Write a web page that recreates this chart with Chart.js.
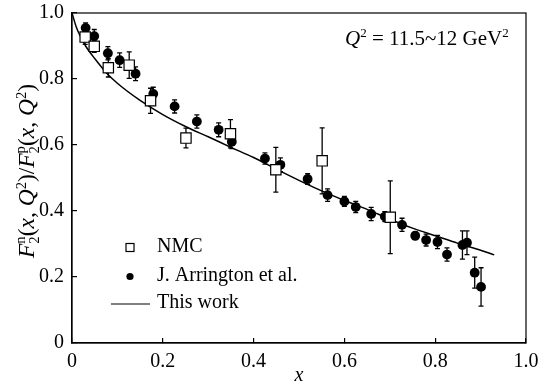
<!DOCTYPE html>
<html>
<head>
<meta charset="utf-8">
<script src="https://cdn.jsdelivr.net/npm/chart.js@4.4.0/dist/chart.umd.min.js"></script>
<style>
  html, body { margin: 0; padding: 0; background: #fff; }
  #wrap { width: 539px; height: 385px; position: relative; }
</style>
</head>
<body>
<div id="wrap"><canvas id="ratio_chart"></canvas></div>
<script>
const SERIF = '"Liberation Serif", "Times New Roman", serif';

// NMC data
const nmcX = [0.029, 0.049, 0.080, 0.126, 0.173, 0.251, 0.349, 0.449, 0.551, 0.701];
const nmcY = [0.927, 0.899, 0.834, 0.842, 0.734, 0.621, 0.634, 0.525, 0.552, 0.381];
const nmcErr = [0.022, 0.018, 0.028, 0.040, 0.038, 0.030, 0.043, 0.068, 0.100, 0.110];

// J. Arrington et al.
const arrX = [0.030, 0.049, 0.079, 0.105, 0.140, 0.179, 0.226, 0.275, 0.323, 0.352,
              0.425, 0.459, 0.519, 0.563, 0.600, 0.625, 0.659, 0.689, 0.727, 0.756,
              0.780, 0.805, 0.826, 0.860, 0.870, 0.887, 0.901];
const arrY = [0.955, 0.930, 0.878, 0.857, 0.816, 0.755, 0.717, 0.671, 0.646, 0.610,
              0.559, 0.540, 0.497, 0.448, 0.429, 0.412, 0.391, 0.383, 0.358, 0.325,
              0.312, 0.306, 0.268, 0.297, 0.304, 0.213, 0.170];
const arrErr = [0.015, 0.020, 0.020, 0.022, 0.021, 0.020, 0.020, 0.020, 0.021, 0.021,
                0.017, 0.021, 0.016, 0.019, 0.015, 0.017, 0.020, 0.015, 0.020, 0.012,
                0.018, 0.020, 0.020, 0.043, 0.036, 0.047, 0.058];

// This work (curve)
const fitX = [0, 0.01, 0.02, 0.03, 0.05, 0.075, 0.1, 0.15, 0.2, 0.25, 0.3, 0.35, 0.4,
              0.45, 0.5, 0.55, 0.6, 0.65, 0.7, 0.75, 0.8, 0.85, 0.9, 0.93];
const fitY = [1.0, 0.955, 0.925, 0.900, 0.862, 0.820, 0.787, 0.735, 0.692, 0.656, 0.625, 0.593, 0.562,
              0.527, 0.493, 0.461, 0.432, 0.405, 0.375, 0.348, 0.325, 0.302, 0.281, 0.267];

const tickVals = [0, 0.2, 0.4, 0.6, 0.8, 1.0];
const tickText = ['0', '0.2', '0.4', '0.6', '0.8', '1.0'];

const pts = (xs, ys) => xs.map((x, i) => ({ x: x, y: ys[i] }));

// rich text helper (italic / superscript / stacked sub+sup)
function segFont(italic, size) {
    return (italic ? 'italic ' : '') + size + 'px ' + SERIF;
}
function segWidth(ctx, s, size) {
    if (s.stack) {
        ctx.font = segFont(false, size * 0.62);
        return Math.max(ctx.measureText(s.stack[0]).width, ctx.measureText(s.stack[1]).width);
    }
    ctx.font = segFont(s.i, s.sup ? size * 0.62 : size);
    return ctx.measureText(s.t).width;
}
function drawRich(ctx, segs, x, y, size, align) {
    const w = segs.reduce((a, s) => a + segWidth(ctx, s, size), 0);
    let cx = align === 'center' ? x - w / 2 : x;
    ctx.textAlign = 'left';
    ctx.textBaseline = 'alphabetic';
    ctx.fillStyle = '#000';
    segs.forEach(s => {
        const sw = segWidth(ctx, s, size);
        if (s.stack) {
            ctx.font = segFont(false, size * 0.62);
            ctx.fillText(s.stack[0], cx, y + size * 0.22);
            ctx.fillText(s.stack[1], cx, y - size * 0.38);
        } else {
            ctx.font = segFont(s.i, s.sup ? size * 0.62 : size);
            ctx.fillText(s.t, cx, s.sup ? y - size * 0.36 : y);
        }
        cx += sw;
    });
}

const yTitle = [
    { t: 'F', i: true }, { stack: ['2', 'n'] }, { t: '(' }, { t: 'x', i: true }, { t: ', ' },
    { t: 'Q', i: true }, { t: '2', sup: true }, { t: ')/' },
    { t: 'F', i: true }, { stack: ['2', 'p'] }, { t: '(' }, { t: 'x', i: true }, { t: ', ' },
    { t: 'Q', i: true }, { t: '2', sup: true }, { t: ')' }
];
const qLabel = [
    { t: 'Q', i: true }, { t: '2', sup: true }, { t: ' = 11.5~12 GeV' }, { t: '2', sup: true }
];

const errorBars = {
    id: 'errorBars',
    beforeDatasetsDraw(chart) {
        const ctx = chart.ctx, xs = chart.scales.x, ys = chart.scales.y;
        ctx.save();
        ctx.strokeStyle = '#000';
        ctx.lineWidth = 1.3;
        const draw = (X, Y, E) => {
            X.forEach((x, i) => {
                const px = xs.getPixelForValue(x);
                const top = ys.getPixelForValue(Y[i] + E[i]);
                const bot = ys.getPixelForValue(Y[i] - E[i]);
                ctx.beginPath();
                ctx.moveTo(px, top); ctx.lineTo(px, bot);
                ctx.moveTo(px - 2.5, top); ctx.lineTo(px + 2.5, top);
                ctx.moveTo(px - 2.5, bot); ctx.lineTo(px + 2.5, bot);
                ctx.stroke();
            });
        };
        draw(nmcX, nmcY, nmcErr);
        draw(arrX, arrY, arrErr);
        ctx.restore();
    }
};

const decorations = {
    id: 'decorations',
    afterDraw(chart) {
        const ctx = chart.ctx, a = chart.chartArea;
        ctx.save();
        // frame
        ctx.strokeStyle = '#000';
        ctx.lineWidth = 1.2;
        ctx.strokeRect(a.left, a.top, a.right - a.left, a.bottom - a.top);

        // y-axis title
        ctx.save();
        ctx.translate(34, (a.top + a.bottom) / 2 - 7);
        ctx.rotate(-Math.PI / 2);
        drawRich(ctx, yTitle, 0, 0, 23.5, 'center');
        ctx.restore();

        // x-axis title
        drawRich(ctx, [{ t: 'x', i: true }], (a.left + a.right) / 2, 381, 20, 'center');

        // Q^2 annotation
        drawRich(ctx, qLabel, 345, 45, 21, 'left');

        // legend
        const ds = chart.data.datasets;
        ctx.font = '20px ' + SERIF;
        ctx.textAlign = 'left';
        ctx.textBaseline = 'middle';
        ctx.lineWidth = 1.2;
        ctx.fillStyle = '#fff';
        ctx.fillRect(126, 243.5, 8, 8);
        ctx.strokeRect(126, 243.5, 8, 8);
        ctx.fillStyle = '#000';
        ctx.fillText(ds[0].label, 157, 247);
        ctx.beginPath();
        ctx.arc(130, 276.5, 3.6, 0, Math.PI * 2);
        ctx.fill();
        ctx.fillText(ds[1].label, 157, 275.5);
        ctx.beginPath();
        ctx.moveTo(111, 304); ctx.lineTo(150, 304);
        ctx.stroke();
        ctx.fillText(ds[2].label, 157, 302.5);
        ctx.restore();
    }
};

const axisCommon = {
    type: 'linear',
    min: 0,
    max: 1,
    afterBuildTicks: (axis) => { axis.ticks = tickVals.map(v => ({ value: v })); },
    ticks: {
        color: '#000',
        font: { family: SERIF, size: 20 },
        callback: (v) => tickText[tickVals.indexOf(v)] ?? ''
    },
    grid: {
        drawOnChartArea: false,
        drawTicks: true,
        tickLength: -5,
        color: '#000',
        lineWidth: 1.2
    },
    border: { display: true, color: '#000', width: 1.2 }
};

const config = {
    type: 'scatter',
    data: {
        datasets: [{
            label: 'NMC',
            data: pts(nmcX, nmcY),
            pointStyle: 'rect',
            pointRadius: 7.3,
            backgroundColor: '#fff',
            borderColor: '#000',
            borderWidth: 1.2,
            order: 1
        }, {
            label: 'J. Arrington et al.',
            data: pts(arrX, arrY),
            pointStyle: 'circle',
            pointRadius: 4.9,
            backgroundColor: '#000',
            borderColor: '#000',
            borderWidth: 0,
            order: 2
        }, {
            label: 'This work',
            type: 'line',
            data: pts(fitX, fitY),
            showLine: true,
            pointRadius: 0,
            borderColor: '#000',
            borderWidth: 1.5,
            fill: false,
            cubicInterpolationMode: 'monotone',
            order: 3
        }]
    },
    options: {
        responsive: true,
        maintainAspectRatio: false,
        animation: false,
        layout: { padding: { left: 0, right: 13, top: 13, bottom: 0 } },
        plugins: {
            legend: { display: false },
            title: { display: false },
            tooltip: { enabled: false }
        },
        scales: {
            x: Object.assign({}, axisCommon, {
                position: 'bottom',
                ticks: Object.assign({}, axisCommon.ticks, { padding: 12, maxRotation: 0 }),
                afterFit: (s) => {
                    s.height = 42;
                    s.paddingLeft = 0; s.paddingRight = 0;
                }
            }),
            y: Object.assign({}, axisCommon, {
                position: 'left',
                ticks: Object.assign({}, axisCommon.ticks, { padding: 13 }),
                afterFit: (s) => {
                    s.width = 72;
                    s.paddingTop = 0; s.paddingBottom = 0;
                }
            })
        }
    },
    plugins: [errorBars, decorations]
};

const ratioChart = new Chart(document.getElementById('ratio_chart'), config);
</script>
</body>
</html>
